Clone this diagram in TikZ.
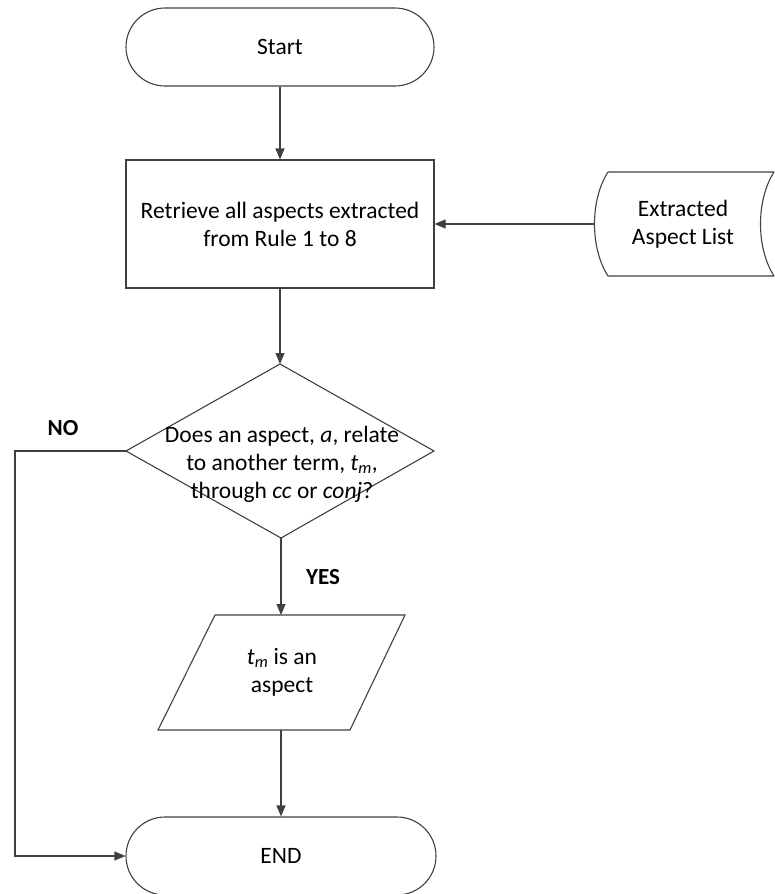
\documentclass[tikz,border=0pt]{standalone}
\usepackage{fontspec}
\setmainfont{Carlito}
\usetikzlibrary{arrows.meta,shapes.geometric}
\begin{document}
\begin{tikzpicture}[x=1pt,y=-1pt,
  every node/.style={font=\fontsize{23.5}{28}\selectfont, align=center},
  ln/.style={draw=black!75, line width=1.1pt},
  arr/.style={ln, -{Triangle[length=11pt,width=9pt]}},
  term/.style={ln, rounded corners=39pt, minimum width=308pt, minimum height=78pt},
  proc/.style={ln, minimum width=308pt, minimum height=128pt},
  lbl/.style={font=\fontsize{23}{26}\selectfont\bfseries}
]
\useasboundingbox (0,0) rectangle (774,894);
\node[term] (start) at (280,47) {Start};
\node[proc] (ret) at (280,224) {Retrieve all aspects extracted\\from Rule 1 to 8};
% stored data
\draw[ln] (608,172) -- (774,172)
  (608,172) .. controls (590,200) and (590,248) .. (608,276) -- (774,276)
  (774,172) .. controls (756,200) and (756,248) .. (774,276);
\coordinate (sdl) at (595,224);
\node (sd) at (683,224) {Extracted\\Aspect List};
% diamond
\coordinate (dt) at (280,364);
\coordinate (dl) at (126,451);
\coordinate (dr) at (434,451);
\coordinate (db) at (281,538);
\draw[ln] (dt) -- (dr) -- (db) -- (dl) -- cycle;
\node (dec) at (282,464) {Does an aspect, \textit{a}, relate\\to another term, \textit{t\textsubscript{m}},\\through \textit{cc} or \textit{conj}?};
% parallelogram
\coordinate (pt) at (281,615);
\coordinate (pb) at (281,730);
\draw[ln] (215,615) -- (405,615) -- (350,730) -- (158,730) -- cycle;
\node (par) at (282,672) {\textit{t\textsubscript{m}} is an\\aspect};
\node[term, minimum width=310pt] (end) at (281,856) {END};
% connectors
\draw[arr] (start) -- (ret);
\draw[arr] (sdl) -- (ret.east);
\draw[arr] (ret) -- (dt);
\draw[arr] (db) -- (pt);
\draw[arr] (pb) -- (end);
\coordinate (nc1) at (15,451);
\coordinate (nc2) at (15,856);
\draw[arr] (dl) -- (nc1) -- (nc2) -- (end.west);
\node[lbl] (yes) at (323,577) {YES};
\node[lbl] (no) at (63,428) {NO};
\end{tikzpicture}
\end{document}
